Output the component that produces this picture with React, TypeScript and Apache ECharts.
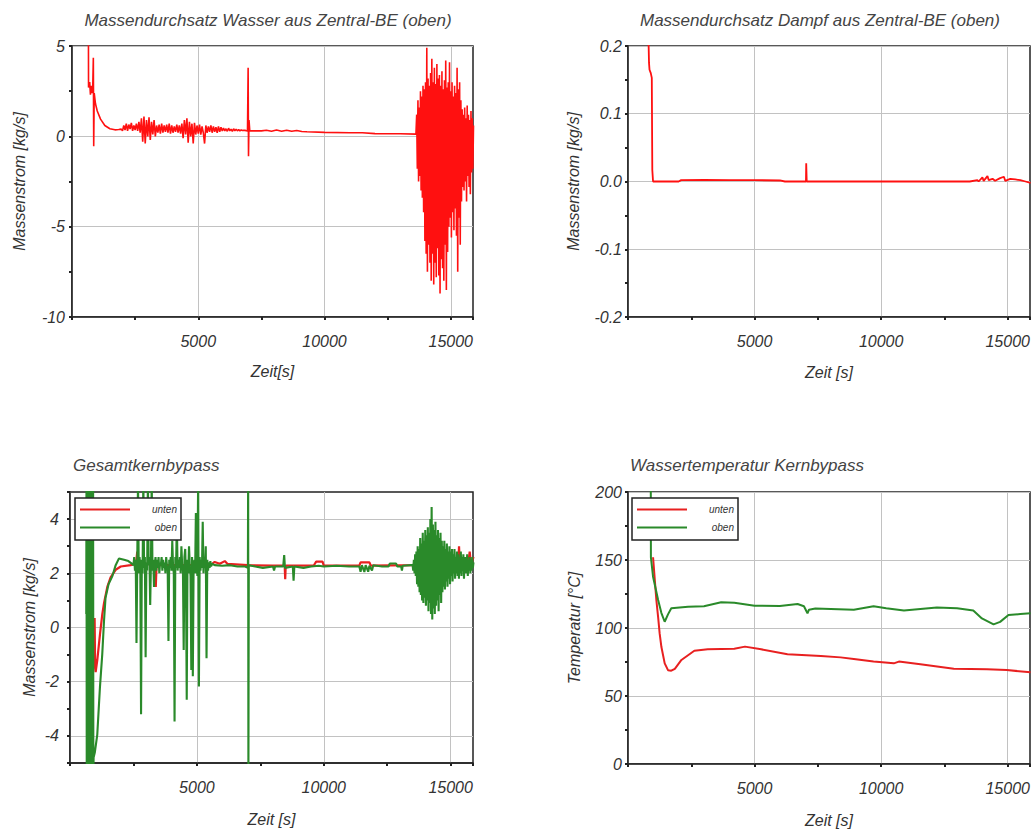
import React, { useEffect, useRef } from "react";
import * as echarts from "echarts";

type Pt = [number, number];
type Burst = { t0: number; dt: number; v: number[] };

// Regularly sampled stretch of a signal: start time, sample step, values
const sampled = (b: Burst): Pt[] => b.v.map((y, i) => [b.t0 + i * b.dt, y] as Pt);

// ---------- Titles and axis names ----------
const TITLES = [
  "Massendurchsatz Wasser aus Zentral-BE (oben)",
  "Massendurchsatz Dampf aus Zentral-BE (oben)",
  "Gesamtkernbypass",
  "Wassertemperatur Kernbypass",
];
const X_NAMES = ["Zeit[s]", "Zeit [s]", "Zeit [s]", "Zeit [s]"];
const Y_NAMES = ["Massenstrom [kg/s]", "Massenstrom [kg/s]", "Massenstrom [kg/s]", "Temperatur [°C]"];
const LEGEND_NAMES = ["unten", "oben"];

// ---------- Time axis ----------
const X_MIN = 0;
const X_MAX = 15880;
const X_STEP = 2500;
const X_LABEL_STEP = 5000;

// ---------- Value axes: [min, max, tick step, label step] ----------
const Y_WASSER = [-10, 5, 2.5, 5];
const Y_DAMPF = [-0.2, 0.2, 0.05, 0.1];
const Y_BYPASS = [-5, 5, 1, 2];
const Y_TEMP = [0, 200, 25, 50];

// ---------- Massendurchsatz Wasser (kg/s) ----------
const wasserStart: Pt[] = [
  [650, 6], [655, 2.7], [700, 3.0], [730, 2.3], [760, 2.8], [790, 2.4], [820, 2.6],
  [845, 4.35], [860, -0.55], [880, 2.4], [930, 1.8], [1000, 1.4], [1130, 0.95],
  [1300, 0.6], [1500, 0.42], [1700, 0.36], [1850, 0.38], [1950, 0.4],
];
const wasserBand: Burst = {
  t0: 2000, dt: 50,
  v: [
    0.3, 0.6, 0.35, 0.7, 0.3, 0.65, 0.4, 0.75, 0.3, 0.6,
    0.35, 0.7, 0.3, 0.8, 0.2,
    1.0, -0.3, 1.1, -0.4, 0.9, 0.0, 1.05, -0.2, 0.8, 0.1, 0.9, 0.0,
    0.6, 0.2, 0.65, 0.15, 0.7, 0.2, 0.6, 0.25, 0.65, 0.2, 0.7, 0.15, 0.6, 0.2, 0.55, 0.25, 0.65, 0.2, 0.6, 0.15,
    0.7, -0.1, 0.9, 0.1, 1.0, -0.35, 0.8, 0.0, 0.7, -0.4, 0.75, 0.1,
    0.6, 0.15, 0.65, 0.1, 0.55, 0.2, -0.4, 0.6, 0.2, 0.55,
    0.25, 0.6, 0.2, 0.55, 0.25, 0.5, 0.2, 0.55, 0.25, 0.5, 0.3, 0.45,
    0.3, 0.42, 0.28, 0.45, 0.3, 0.4, 0.28, 0.42, 0.3, 0.4, 0.3, 0.38, 0.3, 0.36, 0.32, 0.34,
  ],
};
const wasserMid: Pt[] = [
  [6850, 0.33], [6950, 0.3], [6975, 3.8], [6990, -1.1], [7010, 0.9], [7040, 0.3],
  [7500, 0.3], [7700, 0.34], [7900, 0.28], [8100, 0.35], [8300, 0.28], [8500, 0.34],
  [8700, 0.28], [8900, 0.32], [9100, 0.27], [9300, 0.25], [10000, 0.22], [11000, 0.2],
  [11500, 0.2], [12000, 0.15], [13000, 0.14], [13620, 0.12],
];
const wasserBurst: Burst = {
  t0: 13650, dt: 25,
  v: [
    1.2, -1.8, 2.0, -2.5, 1.6, -2.2, 2.5, -3.0, 2.2, -3.4, 2.8,
    -4.2, 2.6, -5.8, 3.0, -6.5, 4.9, -7.5, 3.2, -6.0, 2.8, -7.0, 3.5,
    -8.0, 4.3, -6.5, 3.0, -8.2, 3.8, -7.0, 2.9, -7.8, 4.0, -6.2, 3.2,
    -7.7, 3.4, -8.7, 2.8, -6.8, 3.6, -7.3, 2.6, -8.0, 3.1, -6.0, 4.2, -8.5, 2.7, -6.4, 3.0,
    -5.0, 4.1, -4.5, 2.5, -5.6, 3.0, -4.2, 2.2, -5.2, 2.8, -4.0, 2.4,
    -5.5, 3.8, -7.5, 2.6, -4.5, 3.0, -6.0, 2.0,
    -3.6, 1.5, -2.8, 1.2, -3.0, 1.6, -2.5, 1.0, -3.6, 1.7, -2.2, 1.2, -2.8, 0.9, -3.2, 1.4, -2.0, 1.0, -1.8, 0.6,
  ],
};

// ---------- Massendurchsatz Dampf (kg/s) ----------
const dampf: Pt[] = [
  [800, 0.21], [815, 0.2], [830, 0.175], [850, 0.165], [900, 0.16], [940, 0.153],
  [955, 0.05], [960, 0.017], [985, 0.017], [990, 0], [2000, 0], [2100, 0.002],
  [3000, 0.0025], [4000, 0.002], [5000, 0.002], [6000, 0.0015], [6200, 0], [7030, 0],
  [7040, 0.027], [7060, 0], [13500, 0], [13800, 0.002], [13850, 0], [14000, 0.006],
  [14050, 0.001], [14200, 0.008], [14250, 0.002], [14400, 0.004], [14500, 0.001],
  [14700, 0.005], [14850, 0.007], [14900, 0.001], [15100, 0.004], [15300, 0.003],
  [15500, 0.002], [15700, 0], [15900, -0.002],
];

// ---------- Gesamtkernbypass (kg/s) ----------
const bypassUnten: Pt[] = [
  [970, 0.35], [990, -1.5], [1010, -1.65], [1075, -1.2], [1180, -0.26], [1270, 0.47],
  [1340, 0.9], [1470, 1.5], [1600, 1.85], [1800, 2.13], [2000, 2.25], [2390, 2.3],
  [2600, 2.35], [2650, 2.8], [2700, 2.3], [3000, 2.35], [3350, 2.3], [3380, 1.5],
  [3410, 2.3], [4000, 2.3], [5000, 2.3], [5600, 2.35], [5700, 2.42], [5900, 2.35],
  [6100, 2.45], [6200, 2.35], [7000, 2.3], [8000, 2.28], [8460, 2.28], [8480, 1.78],
  [8500, 2.28], [9600, 2.28], [9700, 2.43], [9950, 2.43], [10000, 2.28], [11400, 2.28],
  [11450, 2.4], [11800, 2.4], [11850, 2.28], [13500, 2.3], [14000, 2.6], [14050, 2.0],
  [14200, 2.8], [14270, 3.5], [14300, 2.2], [14500, 2.5], [15000, 2.4], [15300, 2.4],
  [15330, 3.0], [15360, 2.3], [15700, 2.4], [15750, 2.8], [15800, 2.3], [15900, 2.6],
];
const bypassObenStart: Burst = {
  t0: 640, dt: 10,
  v: [
    0.5, 5.8, -5.8, 5.8, -5.8, 5.8, -5.8, 5.8, -5.8, 5.8, -5.8, 5.8, -5.8, 5.8, -5.8,
    5.8, -5.8, 5.8, -5.8, 5.8, -5.8, 5.8, -5.8, 5.8, -5.8, 5.8, -5.8, 5.8, -5.8, -4.8,
  ],
};
const bypassObenRise: Pt[] = [
  [980, -4.6], [1075, -3.95], [1180, -2.2], [1270, -1.0], [1340, 0.24], [1400, 1.1],
  [1520, 1.6], [1670, 1.9], [1800, 2.3], [1930, 2.55], [2130, 2.5], [2300, 2.45], [2450, 2.35],
];
const bypassObenSpikes: Burst = {
  t0: 2500, dt: 30,
  v: [
    2.3, 2.6, 2.1, 2.5, -0.57, 2.4, 5.5, 2.0, 2.6, 2.2,
    -3.2, 2.5, 2.0, 5.5, 2.2, 2.6, -1.1, 2.4, 2.1, 5.5,
    2.3, 2.6, 0.83, 2.4, 5.5, 2.1, 2.5, 1.5, 2.3, 2.6,
    2.1, 2.5, 2.2, 2.6, 2.0, 2.4, 2.3, 2.6, 2.1, 2.5,
    2.2, 2.4, 2.0, 2.6, 2.3, 2.1, -0.5, 2.5, 2.2, 2.6,
    2.1, 3.2, 2.3, 2.0, -3.47, 2.6, 2.2, 3.97, 2.1, 2.5,
    2.2, 2.6, 2.0, 3.0, 2.3, 2.1, -0.83, 2.6, 2.9, 1.8,
    -2.67, 2.5, 2.0, 3.0, 2.3, 1.9, -1.57, 2.6, -1.8, 2.2,
    2.5, 2.0, 4.22, 2.3, 1.9, 5.5, -2.18, 2.6, 2.1, 2.5,
    2.2, 3.9, 2.0, 2.6, 2.2, 3.0, -1.13, 2.5, 2.1, 2.4,
    2.2, 2.45, 2.25, 2.35,
  ],
};
const bypassObenFlat: Pt[] = [
  [5700, 2.3], [6000, 2.28], [6300, 2.3], [6600, 2.25], [6900, 2.25], [7010, 2.2],
  [7020, 5.8], [7030, -5.8], [7045, 2.3], [7300, 2.25], [7600, 2.2], [8000, 2.25],
  [8040, 2.1], [8080, 2.25], [8400, 2.25], [8440, 2.67], [8470, 2.2], [8780, 2.25],
  [8810, 1.73], [8840, 2.25], [9200, 2.2], [9500, 2.25], [9800, 2.28], [10000, 2.25],
  [10500, 2.28], [11000, 2.25], [11400, 2.25], [11450, 2.06], [11500, 2.3], [11600, 2.05],
  [11650, 2.3], [11750, 2.06], [11800, 2.28], [11900, 2.1], [11950, 2.3], [12300, 2.25],
  [12550, 2.25], [12600, 2.36], [12850, 2.36], [12900, 2.25], [13050, 2.25], [13080, 2.1],
  [13110, 2.28], [13450, 2.3],
];
const bypassObenBurst: Burst = {
  t0: 13500, dt: 25,
  v: [
    2.3, 2.1, 2.5, 2.0, 2.7, 1.9, 2.8, 1.6, 3.0, 1.5, 2.9, 1.3,
    3.3, 1.2, 3.1, 1.0, 3.5, 0.9, 3.2, 1.1, 3.6, 0.8, 3.4, 1.0,
    3.7, 0.6, 3.5, 0.9, 4.0, 0.5, 4.45, 0.3, 3.8, 0.7, 3.6, 0.5,
    3.9, 0.8, 3.4, 1.0, 3.6, 0.6, 3.3, 1.2, 3.5, 0.9, 3.2, 1.3,
    3.0, 1.5, 3.2, 1.4, 2.9, 1.7, 3.1, 1.5, 2.8, 1.8, 3.0, 1.6,
    2.8, 1.9, 2.9, 1.7, 2.7, 2.0, 2.9, 1.8, 2.6, 2.0, 2.8, 1.9,
    2.7, 1.8, 2.6, 2.0, 2.8, 1.9, 2.6, 2.1, 2.7, 1.8, 2.6, 2.0,
    2.6, 2.0, 2.7, 1.9, 2.5, 2.1, 2.6, 2.0, 2.5, 2.1, 2.6, 2.2, 2.4,
  ],
};

// ---------- Wassertemperatur Kernbypass (°C) ----------
const tempUnten: Pt[] = [
  [990, 152], [1060, 135], [1120, 120.6], [1190, 108], [1250, 96], [1320, 86],
  [1450, 74], [1580, 69], [1710, 68.6], [1850, 70], [2110, 76.5], [2620, 83.3],
  [3150, 84.3], [4200, 84.8], [4620, 86.3], [5260, 84.3], [6300, 80.7], [7620, 79.5],
  [8400, 78.4], [8920, 77.2], [9700, 75.3], [10500, 74], [10700, 75.3], [11550, 73.3],
  [12870, 70.1], [14180, 69.6], [14960, 69.1], [15900, 67.4],
];
const tempOben: Pt[] = [
  [900, 205], [905, 152], [990, 137.7], [1190, 120.6], [1320, 111], [1450, 104.6],
  [1580, 110], [1710, 114.5], [2370, 115.7], [3000, 116], [3680, 118.9], [4200, 118.5],
  [5000, 116.4], [6000, 116.2], [6700, 117.6], [6950, 116], [7090, 110.8], [7150, 113.5],
  [7400, 114.3], [8920, 113.5], [9700, 116], [10200, 114.5], [10900, 112.8], [12200, 115],
  [13000, 114.5], [13640, 112.8], [13980, 107], [14440, 102.7], [14700, 104.5],
  [15030, 109.5], [15500, 110.3], [15900, 110.8],
];

// ---------- Styling ----------
const FONT = '"Liberation Sans", Arial, sans-serif';
const TEXT = "#333";
const GRID_LINE = "#c2c2c2";
const FRAME = "#222";
const RED_TOP = "#ff1010";
const RED = "#e82020";
const GREEN = "#2a8a2a";

const GRIDS = [
  { left: 72, top: 46, width: 401, height: 271 },
  { left: 628, top: 46, width: 402, height: 271 },
  { left: 70, top: 492, width: 403, height: 271 },
  { left: 628, top: 492, width: 402, height: 272 },
];

const isMultiple = (v: number, step: number) => Math.abs(v / step - Math.round(v / step)) < 1e-6;

function makeXAxis(i: number, nameGap: number) {
  return {
    type: "value",
    gridIndex: i,
    min: X_MIN,
    max: X_MAX,
    interval: X_STEP,
    name: X_NAMES[i],
    nameLocation: "middle",
    nameGap,
    nameTextStyle: { fontSize: 16, fontStyle: "italic", color: TEXT, fontFamily: FONT },
    axisLine: { show: true, onZero: false, lineStyle: { color: FRAME, width: 1.5 } },
    axisTick: { show: true, length: 3, lineStyle: { color: FRAME, width: 2 } },
    axisLabel: {
      margin: 16,
      fontSize: 16,
      fontStyle: "italic",
      color: TEXT,
      fontFamily: FONT,
      formatter: (v: number) => (v > 0 && v < X_MAX && isMultiple(v, X_LABEL_STEP) ? String(v) : ""),
    },
    splitLine: { show: true, lineStyle: { color: [GRID_LINE, "transparent"], width: 1 } },
  };
}

function makeYAxis(
  i: number,
  cfg: number[],
  nameGap: number,
  margin: number,
  digits: number,
  gridColors: string[]
) {
  const [min, max, step, labelStep] = cfg;
  return {
    type: "value",
    gridIndex: i,
    min,
    max,
    interval: step,
    name: Y_NAMES[i],
    nameLocation: "middle",
    nameGap,
    nameRotate: 90,
    nameTextStyle: { fontSize: 16, fontStyle: "italic", color: TEXT, fontFamily: FONT },
    axisLine: { show: true, onZero: false, lineStyle: { color: FRAME, width: 1.5 } },
    axisTick: { show: true, length: 3, lineStyle: { color: FRAME, width: 2 } },
    axisLabel: {
      margin,
      fontSize: 16,
      fontStyle: "italic",
      color: TEXT,
      fontFamily: FONT,
      formatter: (v: number) => {
        if (!isMultiple(v, labelStep)) return "";
        if (i === 2 && Math.abs(v) >= 5) return "";
        return digits > 0 ? v.toFixed(digits) : String(Math.round(v));
      },
    },
    splitLine: { show: true, lineStyle: { color: gridColors, width: 1 } },
  };
}

function line(name: string, xy: number, data: Pt[], color: string, width: number) {
  return {
    type: "line",
    name,
    xAxisIndex: xy,
    yAxisIndex: xy,
    data,
    showSymbol: false,
    symbol: "none",
    clip: true,
    lineStyle: { color, width },
    itemStyle: { color },
  };
}

function makeLegend(left: number) {
  return {
    data: LEGEND_NAMES,
    orient: "vertical",
    left,
    top: 498,
    padding: [5, 4, 6, 5],
    itemGap: 5,
    itemWidth: 50,
    itemHeight: 2,
    icon: "rect",
    selectedMode: false,
    backgroundColor: "#fff",
    borderColor: FRAME,
    borderWidth: 1.5,
    formatter: (name: string) => `{r|${name}}`,
    textStyle: {
      fontSize: 10,
      fontStyle: "italic",
      color: TEXT,
      fontFamily: FONT,
      lineHeight: 13,
      rich: {
        r: {
          width: 42,
          align: "right",
          fontSize: 10,
          fontStyle: "italic",
          color: TEXT,
          fontFamily: FONT,
          lineHeight: 13,
        },
      },
    },
  };
}

function titleText(text: string, x: number, y: number, align: string) {
  return {
    type: "text",
    x,
    y,
    silent: true,
    style: {
      text,
      fontSize: 17,
      fontStyle: "italic",
      fontFamily: FONT,
      fill: "#444",
      align,
      verticalAlign: "middle",
    },
  };
}

function buildOption() {
  const gridBox = GRIDS.map((g) => ({
    ...g,
    show: true,
    borderColor: FRAME,
    borderWidth: 1.5,
    backgroundColor: "#fff",
    containLabel: false,
  }));

  const alt = [GRID_LINE, "transparent"];
  const altOdd = ["transparent", GRID_LINE];

  return {
    animation: false,
    backgroundColor: "#fff",
    grid: gridBox,
    xAxis: [makeXAxis(0, 46), makeXAxis(1, 47), makeXAxis(2, 48), makeXAxis(3, 48)],
    yAxis: [
      makeYAxis(0, Y_WASSER, 45, 7, 0, alt),
      makeYAxis(1, Y_DAMPF, 47, 6, 1, alt),
      makeYAxis(2, Y_BYPASS, 33, 11, 0, altOdd),
      makeYAxis(3, Y_TEMP, 46, 6, 0, alt),
    ],
    legend: [makeLegend(75), makeLegend(632)],
    graphic: [
      titleText(TITLES[0], 268, 20, "center"),
      titleText(TITLES[1], 820, 20, "center"),
      titleText(TITLES[2], 73, 465, "left"),
      titleText(TITLES[3], 630, 465, "left"),
    ],
    series: [
      line(
        "Wasser",
        0,
        [...wasserStart, ...sampled(wasserBand), ...wasserMid, ...sampled(wasserBurst)],
        RED_TOP,
        1.6
      ),
      line("Dampf", 1, dampf, RED_TOP, 1.8),
      line(LEGEND_NAMES[0], 2, bypassUnten, RED, 2.2),
      line(
        LEGEND_NAMES[1],
        2,
        [
          ...sampled(bypassObenStart),
          ...bypassObenRise,
          ...sampled(bypassObenSpikes),
          ...bypassObenFlat,
          ...sampled(bypassObenBurst),
        ],
        GREEN,
        2.1
      ),
      line(LEGEND_NAMES[0], 3, tempUnten, RED, 2),
      line(LEGEND_NAMES[1], 3, tempOben, GREEN, 2),
    ],
  };
}

export default function App() {
  const ref = useRef<HTMLDivElement>(null);
  useEffect(() => {
    if (!ref.current) return;
    const chart = echarts.init(ref.current, undefined, { renderer: "svg" });
    chart.setOption(buildOption() as any);
    return () => chart.dispose();
  }, []);
  return (
    <div
      ref={ref}
      style={{ position: "fixed", left: 0, top: 0, width: 1033, height: 833, background: "#fff" }}
    />
  );
}
